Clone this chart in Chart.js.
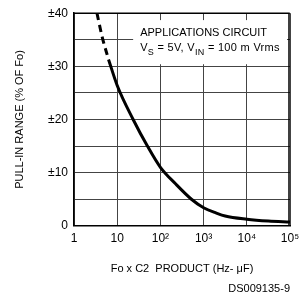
<!DOCTYPE html>
<html>
<head>
<meta charset="utf-8">
<script src="https://cdn.jsdelivr.net/npm/chart.js@4/dist/chart.umd.min.js"></script>
<style>
  html, body { margin: 0; padding: 0; background: #fff; }
  #wrap { width: 306px; height: 298px; }
</style>
</head>
<body>
<div id="wrap"><canvas id="c" width="306" height="298"></canvas></div>
<script>
// dashed start of the curve (above the valid range)
const dashFo = [3.4, 4.5, 6.3];
const dashRange = [40, 35.5, 31.3];
// solid part of the curve
const solidFo = [6.3, 10, 23.4, 50, 100, 224, 523, 1000, 1980, 3160, 10000, 31600, 100000];
const solidRange = [31.3, 26.4, 20, 15, 11, 7.9, 5, 3.4, 2.4, 1.85, 1.25, 0.9, 0.7];

const xTicks = [1, 10, 100, 1000, 10000, 100000];
const xTickLabels = ['1', '10', '10\u00B2', '10\u00B3', '10\u2074', '10\u2075'];
const yTickLabels = { 0: '0', 10: '\u00B110', 20: '\u00B120', 30: '\u00B130', 40: '\u00B140' };

const FONT = 'Liberation Sans';
const INK = '#000';
const GRID = '#444';

function toPoints(xs, ys){
  return xs.map((x, i) => ({ x: x, y: ys[i] }));
}

// white note box with the test conditions, sits on top of the grid
const noteBox = {
  id: 'noteBox',
  beforeDatasetsDraw(chart){
    const { ctx, chartArea: a, scales: { x, y } } = chart;
    const left = x.getPixelForValue(23.4);
    const right = a.right - 3;
    const top = y.getPixelForValue(38.7);
    const bottom = y.getPixelForValue(30.4);
    ctx.save();
    ctx.fillStyle = '#fff';
    ctx.fillRect(left, top, right - left, bottom - top);
    ctx.fillStyle = INK;
    ctx.textBaseline = 'alphabetic';
    ctx.font = '11px "' + FONT + '"';
    const tx = left + 7;
    ctx.fillText('APPLICATIONS CIRCUIT', tx, top + 16);
    let cx = tx;
    const base = top + 31;
    const parts = [['V', 0], ['S', 1], [' = 5V, V', 0], ['IN', 1], [' = 100 m Vrms', 0]];
    ctx.letterSpacing = '0.3px';
    parts.forEach(([t, sub]) => {
      ctx.font = (sub ? '9px "' : '11px "') + FONT + '"';
      ctx.fillText(t, cx, base + (sub ? 4 : 0));
      cx += ctx.measureText(t).width;
    });
    ctx.restore();
  },
  afterDraw(chart){
    // outer frame of the plot
    const { ctx, chartArea: a } = chart;
    ctx.save();
    ctx.strokeStyle = INK;
    ctx.lineWidth = 1.5;
    ctx.beginPath();
    ctx.moveTo(a.left, a.top);
    ctx.lineTo(a.right - 1, a.top);
    ctx.lineTo(a.right - 1, a.bottom);
    ctx.stroke();
    ctx.restore();
  }
};

new Chart(document.getElementById('c'), {
  type: 'line',
  data: {
    datasets: [
      {
        data: toPoints(dashFo, dashRange),
        borderColor: INK,
        borderWidth: 3,
        borderDash: [7, 5],
        pointRadius: 0,
        cubicInterpolationMode: 'monotone'
      },
      {
        data: toPoints(solidFo, solidRange),
        borderColor: INK,
        borderWidth: 3,
        pointRadius: 0,
        cubicInterpolationMode: 'monotone'
      }
    ]
  },
  options: {
    responsive: false,
    animation: false,
    layout: { padding: { top: 10, right: 16, left: 0, bottom: 0 } },
    plugins: {
      legend: { display: false },
      tooltip: { enabled: false },
      subtitle: {
        display: true,
        text: 'DS009135-9',
        position: 'bottom',
        align: 'end',
        color: INK,
        font: { family: FONT, size: 11 },
        padding: { top: 2, bottom: 2 }
      }
    },
    scales: {
      x: {
        type: 'logarithmic',
        min: 1,
        max: 100000,
        afterBuildTicks: s => { s.ticks = xTicks.map(v => ({ value: v })); },
        afterFit: s => { s.height = 55; },
        ticks: {
          color: INK,
          font: { family: FONT, size: 12 },
          padding: 6,
          maxRotation: 0,
          callback: (v) => xTickLabels[xTicks.indexOf(v)]
        },
        grid: { color: GRID, lineWidth: 1, drawTicks: false },
        border: { color: INK, width: 1.5 },
        title: {
          display: true,
          text: 'Fo x C2  PRODUCT (Hz- \u03BCF)',
          color: INK,
          font: { family: FONT, size: 11 },
          padding: { top: 0, bottom: 5 }
        }
      },
      y: {
        min: 0,
        max: 40,
        afterFit: s => { s.width = 74; },
        ticks: {
          stepSize: 5,
          color: INK,
          font: { family: FONT, size: 12 },
          padding: 6,
          autoSkip: false,
          callback: v => yTickLabels[v] !== undefined ? yTickLabels[v] : ''
        },
        grid: { color: GRID, lineWidth: 1, drawTicks: false },
        border: { color: INK, width: 1.5 },
        title: {
          display: true,
          text: 'PULL-IN RANGE (% OF Fo)',
          color: INK,
          font: { family: FONT, size: 11 },
          padding: { top: 13, bottom: 0 }
        }
      }
    }
  },
  plugins: [noteBox]
});
</script>
</body>
</html>
